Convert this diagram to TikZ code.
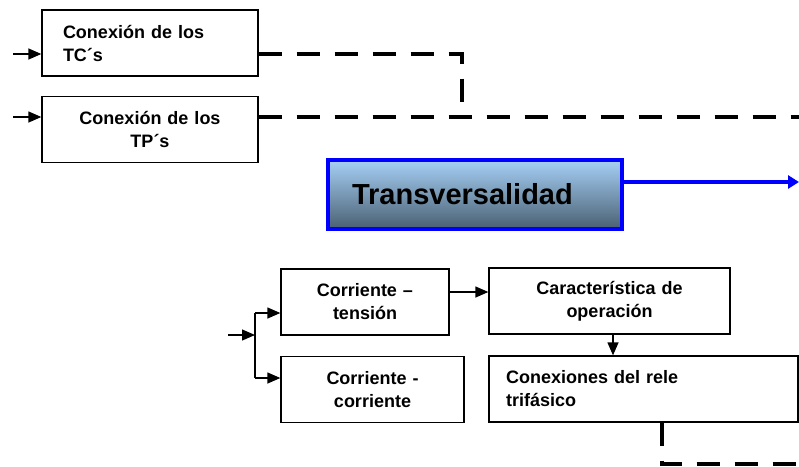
\documentclass[tikz,border=0pt]{standalone}
\usepackage{fontspec}
\setmainfont{Liberation Sans}
\usetikzlibrary{arrows.meta}

\definecolor{boxtop}{RGB}{166,208,246}
\definecolor{boxbot}{RGB}{74,96,114}
\definecolor{edgeblue}{RGB}{0,0,255}

\tikzset{
  block/.style={draw=black, line width=1.3pt, fill=white, minimum height=66pt,
    font=\fontsize{18}{23}\selectfont\bfseries, inner sep=0pt},
  arr/.style={line width=1.3pt, -{Triangle[length=13pt,width=11pt]}},
  dashline/.style={line width=4pt, dash pattern=on 23pt off 15pt}
}

\begin{document}
\begin{tikzpicture}[x=1pt,y=-1pt]
\useasboundingbox (0,0) rectangle (799,466);

%Upper blocks
\node[block, minimum width=216pt, text width=174pt, align=left] (TC) at (150,43) {Conexión de los\\TC´s};
\node[block, minimum width=216pt, text width=200pt, align=center] (TP) at (150,129.5) {Conexión de los\\TP´s};

%Inputs
\coordinate (inTC) at (13,54);
\coordinate (inTP) at (13,117);
\draw[arr] (inTC) -- (inTC -| TC.west);
\draw[arr] (inTP) -- (inTP -| TP.west);

%Dashed links
\coordinate (bend) at (462,54);
\coordinate (outTP) at (799,117);
\draw[dashline] (inTC -| TC.east) -- (bend) -- (bend |- outTP);
\draw[dashline] (inTP -| TP.east) -- (outTP);

%Transversalidad
\node[draw=edgeblue, line width=4pt, top color=boxtop, bottom color=boxbot,
  minimum width=294pt, minimum height=69pt, text width=246pt, align=left, inner sep=0pt,
  font=\fontsize{29}{34}\selectfont\bfseries] (TV) at (475,194.5) {Transversalidad};
\coordinate (outTV) at (799,182);
\draw[edgeblue, line width=3.5pt, -{Triangle[length=11pt,width=13pt]}] (outTV -| TV.east) -- (outTV);

%Lower blocks
\node[block, minimum width=168pt, text width=160pt, align=center] (CT) at (365,302) {Corriente –\\tensión};
\node[block, minimum width=183pt, text width=170pt, align=center] (CC) at (372.5,389.5) {Corriente -\\corriente};
\node[block, minimum width=241pt, text width=230pt, align=center] (CO) at (609.5,301) {Característica de\\operación};
\node[block, minimum width=309pt, text width=275pt, align=left] (CR) at (643.5,389) {Conexiones del rele\\trifásico};

%Split input
\coordinate (inCT) at (228,335);
\coordinate (split) at (255,335);
\coordinate (upper) at (255,313);
\coordinate (lower) at (255,378);
\draw[arr] (inCT) -- (split);
\draw[line width=1.3pt] (upper) -- (lower);
\draw[arr] (upper) -- (upper -| CT.west);
\draw[arr] (lower) -- (lower -| CC.west);

%Flow
\coordinate (ctco) at (449,292);
\draw[arr] (ctco -| CT.east) -- (ctco -| CO.west);
\coordinate (cocr) at (613,0);
\draw[arr] (cocr |- CO.south) -- (cocr |- CR.north);

%Lower dashed exit
\coordinate (down) at (662,464);
\coordinate (exit) at (799,464);
\draw[dashline] (down |- CR.south) -- (down) -- (exit);

\end{tikzpicture}
\end{document}
